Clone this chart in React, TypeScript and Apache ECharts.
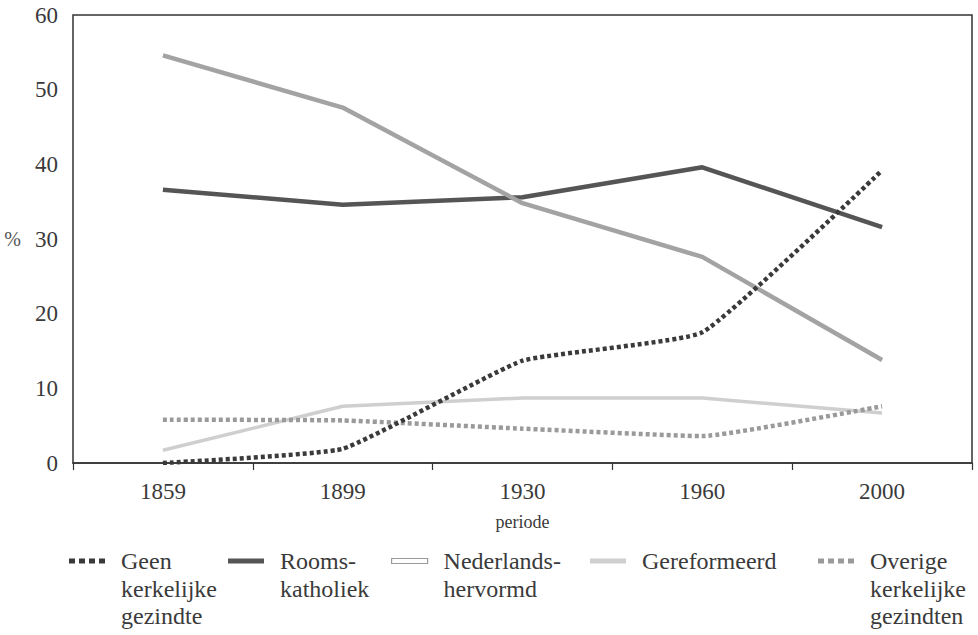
import React, { useEffect, useRef } from "react";
import * as echarts from "echarts";

const categories = ["1859", "1899", "1930", "1960", "2000"];
const geenKerkelijk = [0, 1.9, 13.7, 17.5, 39.2];
const roomsKatholiek = [36.6, 34.6, 35.6, 39.6, 31.6];
const nederlandsHervormd = [54.6, 47.6, 34.8, 27.6, 13.8];
const gereformeerd = [1.7, 7.6, 8.7, 8.7, 6.7];
const overigeKerkelijk = [5.8, 5.7, 4.6, 3.6, 7.6];
const yTicks = [0, 10, 20, 30, 40, 50, 60];

const SERIES_NAMES = [
  "Geen kerkelijke gezindte",
  "Rooms-katholiek",
  "Nederlands-hervormd",
  "Gereformeerd",
  "Overige kerkelijke gezindten",
];
const LEGEND_LINES = [
  ["Geen", "kerkelijke", "gezindte"],
  ["Rooms-", "katholiek"],
  ["Nederlands-", "hervormd"],
  ["Gereformeerd"],
  ["Overige", "kerkelijke", "gezindten"],
];

const FONT = "Liberation Serif";
const TEXT = "#3a3a3a";
const LH = 27.5;

export default function App() {
  const ref = useRef<HTMLDivElement>(null);
  useEffect(() => {
    if (!ref.current) return;
    const chart = echarts.init(ref.current, null, { renderer: "svg" });
    const dots = "path://M0,0h6v5h-6zM10,0h6v5h-6zM20,0h6v5h-6zM30,0h6v5h-6z";
    const bar = "path://M0,0h36v5h-36z";
    const legendDefs = [
      { left: 69, icon: dots, color: "#3a3a3a", border: 0, bc: "#3a3a3a" },
      { left: 228, icon: bar, color: "#555555", border: 0, bc: "#555555" },
      { left: 391, icon: bar, color: "#ffffff", border: 1.2, bc: "#9a9a9a" },
      { left: 590, icon: bar, color: "#cfcfcf", border: 0, bc: "#cfcfcf" },
      { left: 818, icon: dots, color: "#9a9a9a", border: 0, bc: "#9a9a9a" },
    ];
    const iconY = 561;
    const legends = legendDefs.map((d, i) => {
      const lines = LEGEND_LINES[i];
      const n = lines.length;
      const label = Array(n - 1).fill("").concat(lines).join("\n");
      return {
        left: d.left,
        top: iconY - (2 * n - 1) * (LH / 2),
        padding: 0,
        itemWidth: 36,
        itemHeight: 5,
        itemGap: 0,
        data: [
          {
            name: SERIES_NAMES[i],
            icon: d.icon,
            itemStyle: { color: d.color, borderColor: d.bc, borderWidth: d.border },
          },
        ],
        formatter: () => label,
        selectedMode: false,
        textStyle: {
          fontFamily: FONT,
          fontSize: 24,
          color: TEXT,
          lineHeight: LH,
          padding: [0, 0, 0, 11],
        },
      };
    });
    const dashed = (color: string) => ({
      color,
      width: 4.5,
      type: [4, 3] as any,
      cap: "butt" as any,
    });
    const option: any = {
      animation: false,
      backgroundColor: "#ffffff",
      textStyle: { fontFamily: FONT },
      grid: {
        left: 73,
        right: 6,
        top: 15,
        bottom: 172,
        show: true,
        borderColor: "#333333",
        borderWidth: 1.5,
        backgroundColor: "transparent",
      },
      legend: legends,
      xAxis: {
        type: "category",
        data: categories,
        boundaryGap: true,
        name: "periode",
        nameLocation: "middle",
        nameGap: 50,
        nameTextStyle: { fontFamily: FONT, fontSize: 18, color: TEXT },
        axisLine: { show: true, lineStyle: { color: "#333333", width: 1.5 } },
        axisTick: { show: true, length: 7, alignWithLabel: false, lineStyle: { color: "#333333", width: 1.2 } },
        axisLabel: { fontFamily: FONT, fontSize: 23, color: TEXT, margin: 17 },
        splitLine: { show: false },
      },
      yAxis: {
        type: "value",
        min: yTicks[0],
        max: yTicks[yTicks.length - 1],
        interval: 10,
        name: "%",
        nameLocation: "middle",
        nameRotate: 0,
        nameGap: 52,
        nameTextStyle: { fontFamily: FONT, fontSize: 20, color: "#555555" },
        axisLine: { show: false },
        axisTick: { show: false },
        splitLine: { show: false },
        axisLabel: { fontFamily: FONT, fontSize: 23, color: TEXT, margin: 15 },
      },
      series: [
        {
          name: SERIES_NAMES[3],
          type: "line",
          data: gereformeerd,
          symbol: "none",
          z: 2,
          lineStyle: { color: "#cfcfcf", width: 3.5 },
          itemStyle: { color: "#cfcfcf" },
        },
        {
          name: SERIES_NAMES[1],
          type: "line",
          data: roomsKatholiek,
          symbol: "none",
          z: 3,
          lineStyle: { color: "#555555", width: 4.5 },
          itemStyle: { color: "#555555" },
        },
        {
          name: SERIES_NAMES[2],
          type: "line",
          data: nederlandsHervormd,
          symbol: "none",
          z: 3,
          lineStyle: { color: "#a3a3a3", width: 4.5 },
          itemStyle: { color: "#a3a3a3" },
        },
        {
          name: SERIES_NAMES[4],
          type: "line",
          data: overigeKerkelijk,
          symbol: "none",
          smooth: 0.12,
          z: 4,
          lineStyle: dashed("#9a9a9a"),
          itemStyle: { color: "#9a9a9a" },
        },
        {
          name: SERIES_NAMES[0],
          type: "line",
          data: geenKerkelijk,
          symbol: "none",
          smooth: 0.12,
          z: 5,
          lineStyle: dashed("#3a3a3a"),
          itemStyle: { color: "#3a3a3a" },
        },
      ],
    };
    chart.setOption(option);
    return () => chart.dispose();
  }, []);
  return <div ref={ref} style={{ width: 978, height: 635, position: "absolute", left: 0, top: 0 }} />;
}
